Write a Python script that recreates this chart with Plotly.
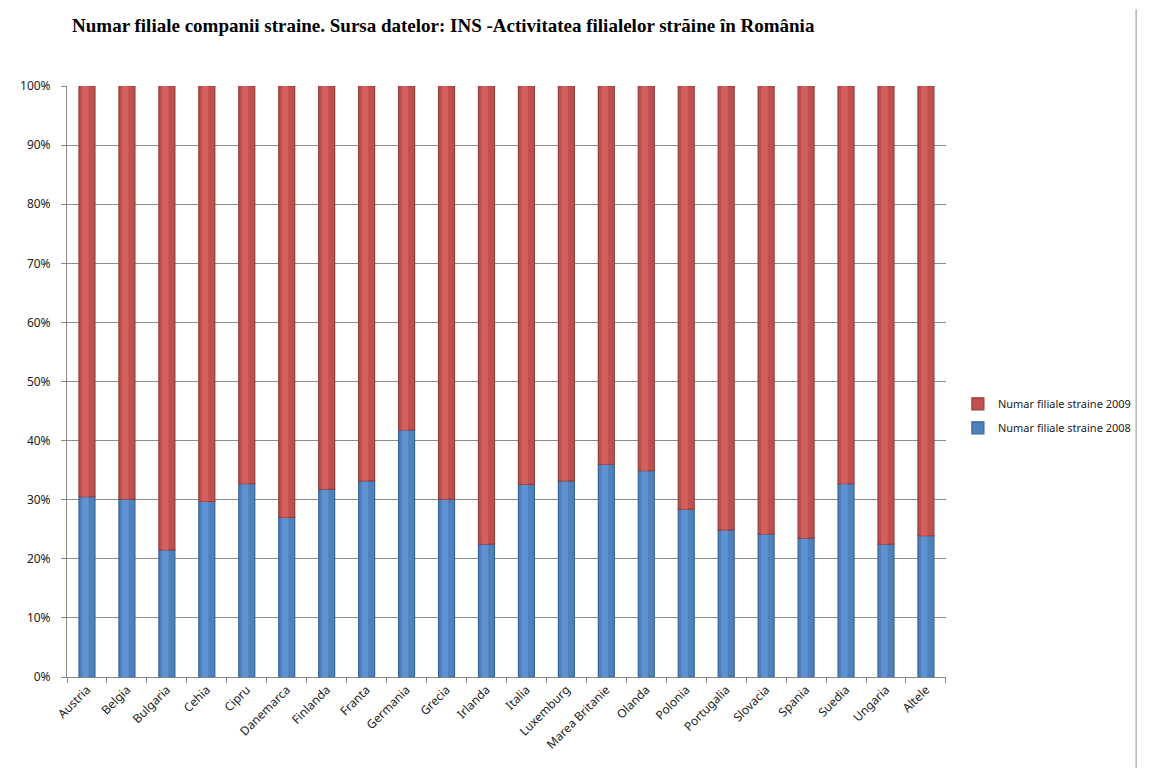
import plotly.graph_objects as go

countries = ["Austria", "Belgia", "Bulgaria", "Cehia", "Cipru", "Danemarca", "Finlanda",
             "Franta", "Germania", "Grecia", "Irlanda", "Italia", "Luxemburg",
             "Marea Britanie", "Olanda", "Polonia", "Portugalia", "Slovacia", "Spania",
             "Suedia", "Ungaria", "Altele"]
# share (%) of each year in the total of the two years
share_2008 = [30.5, 30.1, 21.5, 29.7, 32.7, 27.0, 31.8, 33.2, 41.8, 30.1, 22.5,
              32.6, 33.2, 36.0, 34.9, 28.4, 24.9, 24.2, 23.5, 32.7, 22.5, 23.9]
share_2009 = [69.5, 69.9, 78.5, 70.3, 67.3, 73.0, 68.2, 66.8, 58.2, 69.9, 77.5,
              67.4, 66.8, 64.0, 65.1, 71.6, 75.1, 75.8, 76.5, 67.3, 77.5, 76.1]
y_ticks = [0, 10, 20, 30, 40, 50, 60, 70, 80, 90, 100]
y_tick_labels = ["0%", "10%", "20%", "30%", "40%", "50%", "60%", "70%", "80%", "90%", "100%"]

name_2008 = "Numar filiale straine 2008"
name_2009 = "Numar filiale straine 2009"

fig = go.Figure()

# blue (2008) cylinders
fig.add_trace(go.Bar(x=countries, y=share_2008, base=[0] * len(countries), name=name_2008,
                     width=0.4, marker=dict(color="#4F81BD", line=dict(color="#38639A", width=1.2)),
                     legendrank=2, legendgroup="g2008", hoverinfo="x+y"))
fig.add_trace(go.Bar(x=countries, y=share_2008, base=[0] * len(countries), width=0.16,
                     offset=-0.12, marker=dict(color="#5E92D2", line=dict(width=0)),
                     showlegend=False, legendgroup="g2008", hoverinfo="skip"))
# red (2009) cylinders stacked on top
fig.add_trace(go.Bar(x=countries, y=share_2009, base=share_2008, name=name_2009,
                     width=0.4, marker=dict(color="#C0504D", line=dict(color="#963C3A", width=1.2)),
                     legendrank=1, legendgroup="g2009", hoverinfo="x+y"))
fig.add_trace(go.Bar(x=countries, y=share_2009, base=share_2008, width=0.16,
                     offset=-0.12, marker=dict(color="#D2605C", line=dict(width=0)),
                     showlegend=False, legendgroup="g2009", hoverinfo="skip"))

fig.update_layout(
    width=1150, height=768,
    barmode="overlay",
    paper_bgcolor="white", plot_bgcolor="white",
    margin=dict(l=57, r=211, t=78, b=99),
    title=dict(text="Numar filiale companii straine. Sursa datelor: INS -Activitatea filialelor străine în România",
               x=0.0557, xanchor="left", y=0.978, yanchor="middle",
               font=dict(family="Liberation Serif", size=19, color="black", weight="bold")),
    legend=dict(xref="container", yref="container", x=0.826, y=0.469,
                xanchor="left", yanchor="middle", bgcolor="rgba(0,0,0,0)",
                font=dict(family="Noto Sans", size=11, color="#222"),
                itemwidth=30, tracegroupgap=5),
    font=dict(family="Noto Sans", size=12, color="#222"),
    showlegend=True,
)
fig.update_xaxes(type="category", range=[-0.5, 21.5], tickangle=-45,
                 tickfont=dict(size=12), showline=True, linecolor="#888", linewidth=1,
                 ticks="outside", ticklen=5, tickcolor="#888", tickson="boundaries",
                 showgrid=False)
fig.update_yaxes(range=[0, 100], tickvals=y_ticks, ticktext=y_tick_labels,
                 showgrid=True, gridcolor="#8C8C8C", gridwidth=1,
                 showline=True, linecolor="#888", linewidth=1,
                 ticks="outside", ticklen=5, tickcolor="#888", zeroline=False,
                 ticklabelstandoff=8)

# window edge line at the right of the chart
fig.add_shape(type="line", xref="paper", yref="paper", x0=1.2165, x1=1.2165, y0=-0.16, y1=1.13,
              line=dict(color="#B4B4B4", width=1.5))

fig.write_html("out.html")
